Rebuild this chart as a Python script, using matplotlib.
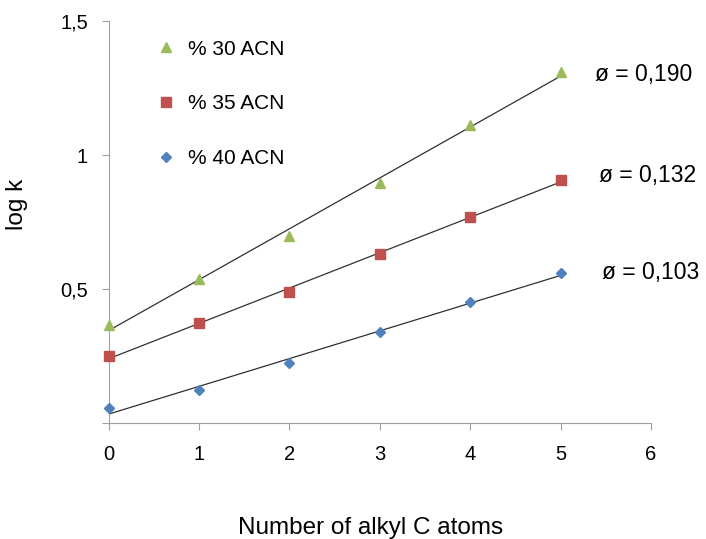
import matplotlib
matplotlib.use("Agg")
import matplotlib.pyplot as plt
import numpy as np

plt.rcParams["font.family"] = ["Liberation Sans", "DejaVu Sans"]

# ── data ─────────────────────────────────────────────────────────────────
carbons = [0, 1, 2, 3, 4, 5]
logk_30 = [0.366, 0.537, 0.698, 0.896, 1.112, 1.310]
logk_35 = [0.250, 0.373, 0.489, 0.631, 0.769, 0.907]
logk_40 = [0.056, 0.123, 0.224, 0.340, 0.451, 0.560]
series_labels = ["% 30 ACN", "% 35 ACN", "% 40 ACN"]
slope_labels = ["ø = 0,190", "ø = 0,132", "ø = 0,103"]

colors = ["#9BBB59", "#C0504D", "#4F81BD"]
markers = ["^", "s", "D"]
msizes = [7, 7, 5.5]
label_pos = [(5.38, 1.30), (5.43, 0.925), (5.46, 0.563)]

fig = plt.figure(figsize=(7.06, 5.39), dpi=100)
ax = fig.add_axes([0.154, 0.215, 0.768, 0.746])

x = np.array(carbons, dtype=float)
handles = []
for ys, lab, c, m, ms, txt, pos in zip(
        [logk_30, logk_35, logk_40], series_labels, colors, markers, msizes,
        slope_labels, label_pos):
    h, = ax.plot(x, ys, ls="none", marker=m, ms=ms, color=c, label=lab,
                 clip_on=False, zorder=3)
    handles.append(h)
    # linear trendline
    k, b = np.polyfit(x, ys, 1)
    ax.plot(x, k * x + b, color="#303030", lw=0.9, zorder=2)
    ax.text(pos[0], pos[1], txt, fontsize=16.5, va="center", ha="left")

ax.set_xlim(0, 6)
ax.set_ylim(0, 1.5)
ax.set_xticks([0, 1, 2, 3, 4, 5, 6])
ax.set_yticks([0, 0.5, 1, 1.5])
ax.set_yticklabels(["", "0,5", "1", "1,5"])

for s in ["top", "right"]:
    ax.spines[s].set_visible(False)
for s in ["left", "bottom"]:
    ax.spines[s].set_color("#A0A0A0")
ax.tick_params(direction="out", length=5, color="#A0A0A0", labelsize=14.5,
               pad=11)
ax.tick_params(axis="y", pad=10)

ax.set_xlabel("Number of alkyl C atoms", fontsize=17.5)
ax.set_ylabel("log k", fontsize=17.5)
ax.xaxis.set_label_coords(0.483, -0.234)
ax.yaxis.set_label_coords(-0.149, 0.545)

ax.legend(handles=handles, loc="upper left", bbox_to_anchor=(0.212, 0.942),
          bbox_transform=fig.transFigure, frameon=False, fontsize=15,
          labelspacing=1.72, handlelength=0.8, handletextpad=0.65,
          borderaxespad=0)

fig.savefig("out.png", dpi=100)
